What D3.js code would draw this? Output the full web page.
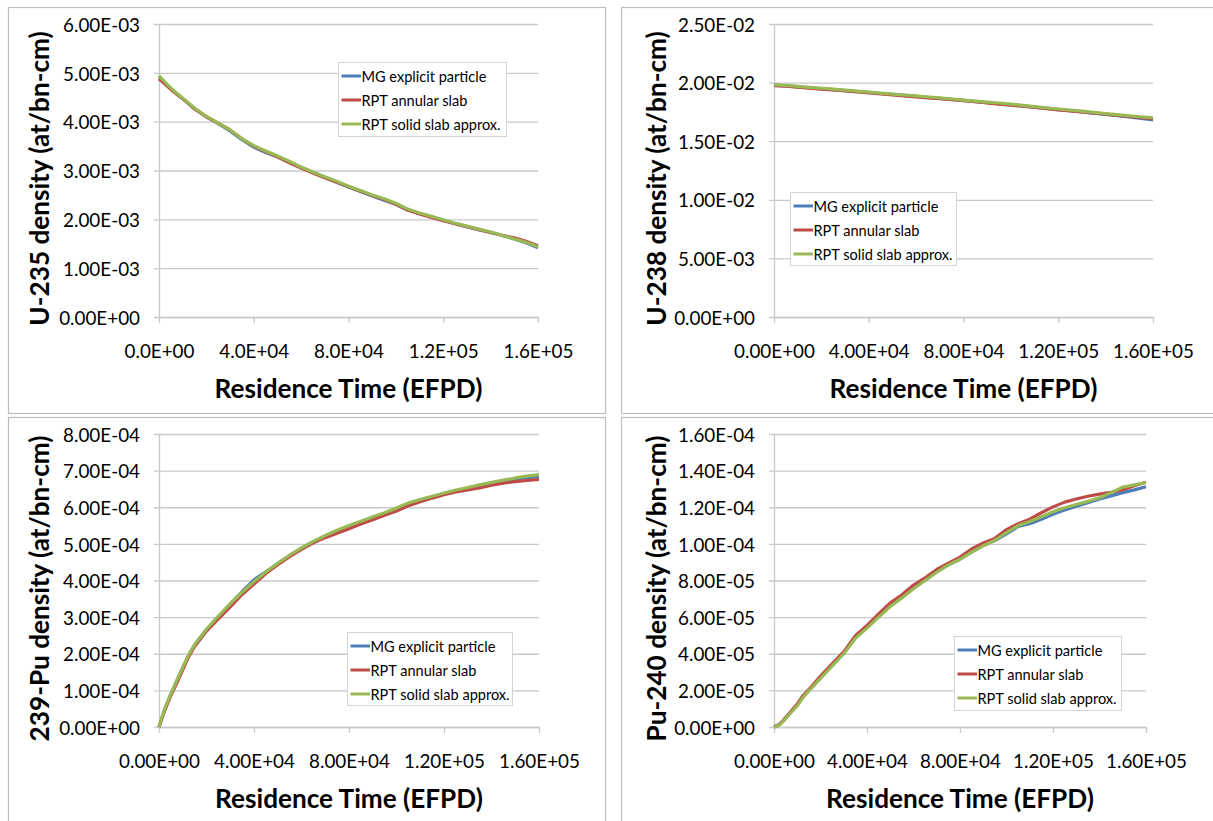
<!DOCTYPE html>
<html>
<head>
<meta charset="utf-8">
<script src="https://cdn.jsdelivr.net/npm/d3@7"></script>
<style>
  html, body { margin: 0; padding: 0; background: #ffffff; }
  svg { display: block; }
  text { font-family: Lato, "Open Sans", "DejaVu Sans", sans-serif; fill: #000; }
</style>
</head>
<body>
<svg id="chart" width="1213" height="821"></svg>
<script>
// ---- data -----------------------------------------------------------------
// residence time steps (EFPD), shared by every series
const timeEFPD = [0, 2500, 5000, 7500, 10000, 12500, 15000, 20000, 25000, 30000,
  35000, 40000, 45000, 50000, 55000, 60000, 65000, 70000, 75000, 80000,
  85000, 90000, 95000, 100000, 105000, 110000, 115000, 120000, 125000, 130000,
  135000, 140000, 145000, 150000, 155000, 160000];

const seriesNames = ["MG explicit particle", "RPT annular slab", "RPT solid slab approx."];
const seriesColors = ["#4a7ebb", "#be4b48", "#98b954"];

// U-235 density, units of 1e-3 at/bn-cm
const u235Unit = 1e-3;
const u235MG = [4.92,4.79,4.67,4.57,4.47,4.37,4.27,4.10,3.96,3.81,3.63,3.48,3.37,3.28,3.17,3.06,2.96,2.86,2.76,2.66,2.57,2.48,2.39,2.31,2.19,2.12,2.05,1.98,1.91,1.85,1.79,1.73,1.67,1.60,1.52,1.42];
const u235Annular = [4.88,4.77,4.66,4.56,4.47,4.37,4.26,4.10,3.97,3.83,3.65,3.50,3.39,3.28,3.16,3.05,2.95,2.85,2.76,2.67,2.58,2.49,2.41,2.31,2.19,2.11,2.04,1.97,1.91,1.85,1.79,1.73,1.67,1.62,1.55,1.46];
const u235Solid = [4.94,4.81,4.69,4.58,4.48,4.38,4.28,4.11,3.97,3.83,3.65,3.51,3.40,3.30,3.19,3.07,2.97,2.87,2.78,2.68,2.59,2.50,2.42,2.33,2.21,2.13,2.06,1.99,1.92,1.86,1.80,1.74,1.67,1.60,1.53,1.44];

// U-238 density, units of 1e-2 at/bn-cm
const u238Unit = 1e-2;
const u238MG = [1.978,1.975,1.971,1.967,1.963,1.959,1.955,1.947,1.940,1.932,1.924,1.916,1.907,1.899,1.891,1.883,1.874,1.866,1.857,1.848,1.838,1.828,1.818,1.810,1.801,1.791,1.780,1.770,1.760,1.750,1.739,1.729,1.718,1.707,1.695,1.682];
const u238Annular = [1.975,1.972,1.969,1.965,1.961,1.957,1.953,1.945,1.937,1.929,1.920,1.911,1.903,1.894,1.886,1.878,1.870,1.862,1.855,1.847,1.837,1.827,1.817,1.807,1.798,1.788,1.778,1.768,1.758,1.749,1.740,1.731,1.721,1.711,1.700,1.690];
const u238Solid = [1.982,1.979,1.976,1.972,1.968,1.964,1.960,1.952,1.944,1.936,1.928,1.919,1.911,1.902,1.894,1.886,1.877,1.869,1.860,1.851,1.842,1.834,1.826,1.817,1.806,1.795,1.785,1.775,1.765,1.756,1.746,1.736,1.727,1.717,1.708,1.700];

// Pu-239 density, units of 1e-4 at/bn-cm
const pu239Unit = 1e-4;
const pu239MG = [0.00,0.50,0.90,1.26,1.62,1.96,2.24,2.66,3.01,3.35,3.70,4.02,4.24,4.46,4.68,4.88,5.06,5.21,5.34,5.47,5.60,5.72,5.83,5.96,6.10,6.19,6.28,6.37,6.45,6.52,6.59,6.66,6.72,6.77,6.81,6.84];
const pu239Annular = [0.00,0.47,0.86,1.20,1.56,1.92,2.20,2.62,2.95,3.28,3.62,3.90,4.19,4.43,4.65,4.85,5.03,5.17,5.29,5.41,5.54,5.66,5.78,5.90,6.04,6.15,6.25,6.34,6.42,6.47,6.53,6.60,6.66,6.70,6.73,6.76];
const pu239Solid = [0.00,0.52,0.90,1.27,1.63,1.97,2.25,2.67,3.03,3.37,3.68,3.97,4.23,4.47,4.69,4.89,5.07,5.23,5.37,5.50,5.62,5.74,5.85,5.98,6.12,6.21,6.30,6.39,6.47,6.54,6.61,6.68,6.74,6.80,6.85,6.89];

// Pu-240 density, units of 1e-5 at/bn-cm
const pu240Unit = 1e-5;
const pu240MG = [0.00,0.15,0.48,0.85,1.20,1.66,1.98,2.68,3.36,4.02,4.88,5.46,6.05,6.62,7.08,7.60,8.03,8.50,8.86,9.16,9.55,9.92,10.18,10.55,10.95,11.10,11.35,11.62,11.85,12.05,12.25,12.45,12.62,12.80,12.95,13.12];
const pu240Annular = [0.00,0.15,0.52,0.88,1.25,1.72,2.05,2.78,3.45,4.10,4.98,5.55,6.18,6.78,7.22,7.75,8.15,8.60,8.95,9.28,9.72,10.05,10.30,10.78,11.10,11.35,11.70,12.02,12.28,12.45,12.60,12.72,12.82,12.95,13.18,13.37];
const pu240Solid = [0.00,0.12,0.46,0.82,1.15,1.62,1.98,2.65,3.33,4.00,4.85,5.40,6.00,6.58,7.05,7.55,8.00,8.45,8.85,9.16,9.55,9.90,10.20,10.62,11.00,11.22,11.48,11.75,11.97,12.15,12.32,12.52,12.80,13.10,13.22,13.35];

// axis ticks
const xTicks = [0, 40000, 80000, 120000, 160000];
const u235YTicks = [0, 1e-3, 2e-3, 3e-3, 4e-3, 5e-3, 6e-3];
const u238YTicks = [0, 5e-3, 1e-2, 1.5e-2, 2e-2, 2.5e-2];
const pu239YTicks = [0, 1e-4, 2e-4, 3e-4, 4e-4, 5e-4, 6e-4, 7e-4, 8e-4];
const pu240YTicks = [0, 2e-5, 4e-5, 6e-5, 8e-5, 1e-4, 1.2e-4, 1.4e-4, 1.6e-4];

const xTitle = "Residence Time (EFPD)";

// ---- layout ---------------------------------------------------------------
const panels = [
  { frame: [8, 7, 605, 413], plot: { x0: 159, x1: 538, yt: 24, yb: 317 },
    yTicks: u235YTicks, xDigits: 1, yTitle: "U-235 density (at/bn-cm)", titleX: 39,
    unit: u235Unit, series: [u235MG, u235Annular, u235Solid],
    legend: { x: 338, y: 62, w: 168, h: 74 } },
  { frame: [621, 7, 1240, 413], plot: { x0: 774, x1: 1153, yt: 24, yb: 317 },
    yTicks: u238YTicks, xDigits: 2, yTitle: "U-238 density (at/bn-cm)", titleX: 656,
    unit: u238Unit, series: [u238MG, u238Annular, u238Solid],
    legend: { x: 790, y: 192, w: 166, h: 73 } },
  { frame: [8, 417, 605, 850], plot: { x0: 159, x1: 539, yt: 434, yb: 727 },
    yTicks: pu239YTicks, xDigits: 2, yTitle: "239-Pu density (at/bn-cm)", titleX: 39,
    unit: pu239Unit, series: [pu239MG, pu239Annular, pu239Solid],
    legend: { x: 347, y: 632, w: 165, h: 73 } },
  { frame: [621, 417, 1240, 850], plot: { x0: 774, x1: 1146, yt: 434, yb: 727 },
    yTicks: pu240YTicks, xDigits: 2, yTitle: "Pu-240 density (at/bn-cm)", titleX: 656,
    unit: pu240Unit, series: [pu240MG, pu240Annular, pu240Solid],
    legend: { x: 954, y: 636, w: 167, h: 74 } }
];

// "6.00E-03" style labels
function sci(v, digits) {
  const [m, e] = v.toExponential(digits).split("e");
  const n = parseInt(e, 10);
  return m + "E" + (n < 0 ? "-" : "+") + String(Math.abs(n)).padStart(2, "0");
}

const svg = d3.select("#chart");

// choose a font size so that a sample string spans a given width
function fitSize(str, weight, width) {
  const t = svg.append("text").style("font-size", "100px").style("font-weight", weight).text(str);
  const w = t.node().getComputedTextLength();
  t.remove();
  return 100 * width / w;
}
const tickSize = fitSize("6.00E-03", 400, 77);
const titleSize = fitSize(xTitle, 700, 268);
const legendSize = fitSize("MG explicit particle", 400, 125);

const gridColor = "#c9c9c9";

panels.forEach(p => {
  const g = svg.append("g");
  const P = p.plot;

  // chart frame
  g.append("rect")
    .attr("x", p.frame[0] + 0.5).attr("y", p.frame[1] + 0.5)
    .attr("width", p.frame[2] - p.frame[0]).attr("height", p.frame[3] - p.frame[1])
    .attr("fill", "none").attr("stroke", "#bdbdbd").attr("stroke-width", 1.2);

  const x = d3.scaleLinear().domain([0, 160000]).range([P.x0, P.x1]);
  const y = d3.scaleLinear().domain([0, d3.max(p.yTicks)]).range([P.yb, P.yt]);

  // horizontal gridlines with value labels
  const yAxis = g.append("g")
    .attr("transform", `translate(${P.x0 - 5},0)`)
    .call(d3.axisLeft(y).tickValues(p.yTicks)
      .tickSizeInner(-(P.x1 - P.x0 + 5)).tickSizeOuter(0).tickPadding(14)
      .tickFormat(d => sci(d, 2)));
  yAxis.select(".domain").remove();
  yAxis.selectAll(".tick line").attr("stroke", gridColor).attr("stroke-width", 1.3);
  yAxis.selectAll(".tick text")
    .style("font-size", tickSize + "px").attr("dy", "0.38em");
  yAxis.attr("font-family", null).attr("font-size", null);

  // vertical axis line
  g.append("g").attr("transform", `translate(${P.x0},0)`)
    .call(d3.axisLeft(y).tickValues([]).tickSizeOuter(0))
    .select(".domain").attr("stroke", gridColor).attr("stroke-width", 1.3);

  // horizontal axis
  const xAxis = g.append("g")
    .attr("transform", `translate(0,${P.yb})`)
    .call(d3.axisBottom(x).tickValues(xTicks).tickSizeInner(6).tickSizeOuter(0)
      .tickPadding(22).tickFormat(d => sci(d, p.xDigits)));
  xAxis.attr("font-family", null).attr("font-size", null);
  xAxis.select(".domain").attr("stroke", gridColor).attr("stroke-width", 1.3);
  xAxis.selectAll(".tick line").attr("stroke", gridColor).attr("stroke-width", 1.3);
  xAxis.selectAll(".tick text").style("font-size", tickSize + "px");

  // axis titles
  g.append("text")
    .attr("x", (P.x0 + P.x1) / 2).attr("y", P.yb + 71)
    .attr("text-anchor", "middle").attr("dominant-baseline", "central")
    .style("font-weight", 700).style("font-size", titleSize + "px")
    .text(xTitle);
  const cy = (P.yt + P.yb) / 2 + 8;
  g.append("text")
    .attr("transform", `translate(${p.titleX},${cy}) rotate(-90)`)
    .attr("text-anchor", "middle").attr("dominant-baseline", "central")
    .style("font-weight", 700).style("font-size", titleSize + "px")
    .text(p.yTitle);

  // series lines
  const line = d3.line()
    .x((d, i) => x(timeEFPD[i]))
    .y(d => y(d * p.unit));
  p.series.forEach((vals, k) => {
    g.append("path")
      .datum(vals)
      .attr("d", line)
      .attr("fill", "none")
      .attr("stroke", seriesColors[k])
      .attr("stroke-width", 3.2)
      .attr("stroke-linejoin", "round");
  });

  // legend
  const L = p.legend;
  const lg = g.append("g").attr("transform", `translate(${L.x},${L.y})`);
  lg.append("rect").attr("x", 0.5).attr("y", 0.5).attr("width", L.w).attr("height", L.h)
    .attr("fill", "#fff").attr("stroke", "#d4d4d4").attr("stroke-width", 1);
  seriesNames.forEach((name, k) => {
    const ey = 14 + k * 24;
    lg.append("line").attr("x1", 3.5).attr("x2", 23).attr("y1", ey).attr("y2", ey)
      .attr("stroke", seriesColors[k]).attr("stroke-width", 3);
    lg.append("text").attr("x", 23.5).attr("y", ey)
      .attr("dominant-baseline", "central")
      .style("font-size", legendSize + "px")
      .text(name);
  });
});
</script>
</body>
</html>
